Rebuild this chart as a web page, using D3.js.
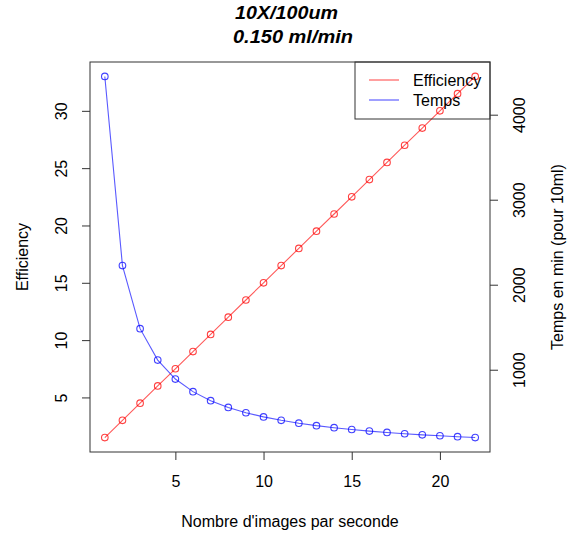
<!DOCTYPE html>
<html>
<head>
<meta charset="utf-8">
<script src="https://cdn.jsdelivr.net/npm/d3@7"></script>
<style>
  body { margin: 0; background: #fff; }
  svg text { font-family: "Liberation Sans", Arial, sans-serif; fill: #000; }
</style>
</head>
<body>
<div class="chart"></div>
<script>
var imagesPerSecond = [1, 2, 3, 4, 5, 6, 7, 8, 9, 10, 11, 12, 13, 14, 15, 16, 17, 18, 19, 20, 21, 22];
var efficiency = [1.5, 3, 4.5, 6, 7.5, 9, 10.5, 12, 13.5, 15, 16.5, 18, 19.5, 21, 22.5, 24, 25.5, 27, 28.5, 30, 31.5, 33];
var temps = [4450, 2225, 1483, 1113, 890, 742, 636, 556, 494, 445, 405, 371, 342, 318, 297, 278, 262, 247, 234, 223, 212, 202];
var xTicks = [5, 10, 15, 20];
var leftTicks = [5, 10, 15, 20, 25, 30];
var rightTicks = [1000, 2000, 3000, 4000];
var seriesNames = ["Efficiency", "Temps"];
var seriesColors = ["#ff0000", "#0000ff"];

var width = 580, height = 533;
var plotL = 90, plotR = 490, plotT = 62, plotB = 452;

// R style: extend the data range by 4% on each side
function pad(ext) {
    var d = (ext[1] - ext[0]) * 0.04;
    return [ext[0] - d, ext[1] + d];
}

var x = d3.scaleLinear().domain(pad(d3.extent(imagesPerSecond))).range([plotL, plotR]);
var yLeft = d3.scaleLinear().domain(pad(d3.extent(efficiency))).range([plotB, plotT]);
var yRight = d3.scaleLinear().domain(pad(d3.extent(temps))).range([plotB, plotT]);

var svg = d3.select(".chart").append("svg")
    .attr("width", width)
    .attr("height", height);

// lines + open circles
function drawSeries(values, yScale, color) {
    var pts = imagesPerSecond.map(function(v, i) { return [v, values[i]]; });
    svg.append("path")
        .datum(pts)
        .attr("fill", "none")
        .attr("stroke", color)
        .attr("stroke-opacity", 0.65)
        .attr("stroke-width", 1.1)
        .attr("d", d3.line()
            .x(function(d) { return x(d[0]); })
            .y(function(d) { return yScale(d[1]); }));
    svg.selectAll(null)
        .data(pts)
        .enter().append("circle")
        .attr("cx", function(d) { return x(d[0]); })
        .attr("cy", function(d) { return yScale(d[1]); })
        .attr("r", 3.3)
        .attr("fill", "none")
        .attr("stroke", color)
        .attr("stroke-opacity", 0.75)
        .attr("stroke-width", 1.1);
}
drawSeries(efficiency, yLeft, seriesColors[0]);
drawSeries(temps, yRight, seriesColors[1]);

// box
svg.append("rect")
    .attr("x", plotL).attr("y", plotT)
    .attr("width", plotR - plotL).attr("height", plotB - plotT)
    .attr("fill", "none")
    .attr("stroke", "#333");

function styleAxis(g) {
    g.select(".domain").remove();
    g.selectAll(".tick line").attr("stroke", "#333");
    g.selectAll("text").style("font-size", "16px");
}

var xAxis = svg.append("g")
    .attr("transform", "translate(0," + plotB + ")")
    .call(d3.axisBottom(x).tickValues(xTicks).tickSize(8));
styleAxis(xAxis);
xAxis.selectAll("text").attr("y", 35).attr("dy", 0);

var lAxis = svg.append("g")
    .attr("transform", "translate(" + plotL + ",0)")
    .call(d3.axisLeft(yLeft).tickValues(leftTicks).tickSize(8));
styleAxis(lAxis);
lAxis.selectAll("text")
    .attr("transform", "rotate(-90)")
    .attr("x", 0).attr("y", -22.7).attr("dy", 0)
    .attr("text-anchor", "middle");

var rAxis = svg.append("g")
    .attr("transform", "translate(" + plotR + ",0)")
    .call(d3.axisRight(yRight).tickValues(rightTicks).tickFormat(d3.format("d")).tickSize(8));
styleAxis(rAxis);
rAxis.selectAll("text")
    .attr("transform", "rotate(-90)")
    .attr("x", 0).attr("y", 35).attr("dy", 0)
    .attr("text-anchor", "middle");

// titles
svg.append("text")
    .attr("x", 235).attr("y", 19)
    .attr("textLength", 103).attr("lengthAdjust", "spacingAndGlyphs")
    .style("font-size", "17.5px").style("font-weight", "bold").style("font-style", "italic")
    .text("10X/100um");
svg.append("text")
    .attr("x", 233).attr("y", 42.7)
    .attr("textLength", 120).attr("lengthAdjust", "spacingAndGlyphs")
    .style("font-size", "17.5px").style("font-weight", "bold").style("font-style", "italic")
    .text("0.150 ml/min");

svg.append("text")
    .attr("x", (plotL + plotR) / 2).attr("y", 526.7)
    .attr("text-anchor", "middle")
    .style("font-size", "16px")
    .text("Nombre d'images par seconde");

svg.append("text")
    .attr("transform", "translate(28," + (plotT + plotB) / 2 + ") rotate(-90)")
    .attr("text-anchor", "middle")
    .style("font-size", "16px")
    .text("Efficiency");

svg.append("text")
    .attr("transform", "translate(563," + (plotT + plotB) / 2 + ") rotate(-90)")
    .attr("text-anchor", "middle")
    .style("font-size", "16px")
    .text("Temps en min (pour 10ml)");

// legend, top right
var legend = svg.append("g");
legend.append("rect")
    .attr("x", 355).attr("y", plotT)
    .attr("width", plotR - 355).attr("height", 57)
    .attr("fill", "none")
    .attr("stroke", "#333");
var items = legend.selectAll(".item")
    .data(seriesNames)
    .enter().append("g")
    .attr("transform", function(d, i) { return "translate(369," + (80 + i * 20) + ")"; });
items.append("line")
    .attr("x1", 0).attr("x2", 30)
    .attr("stroke-opacity", 0.75)
    .attr("stroke", function(d, i) { return seriesColors[i]; });
items.append("text")
    .attr("x", 44).attr("dy", "0.35em")
    .style("font-size", "16px")
    .text(function(d) { return d; });
</script>
</body>
</html>
